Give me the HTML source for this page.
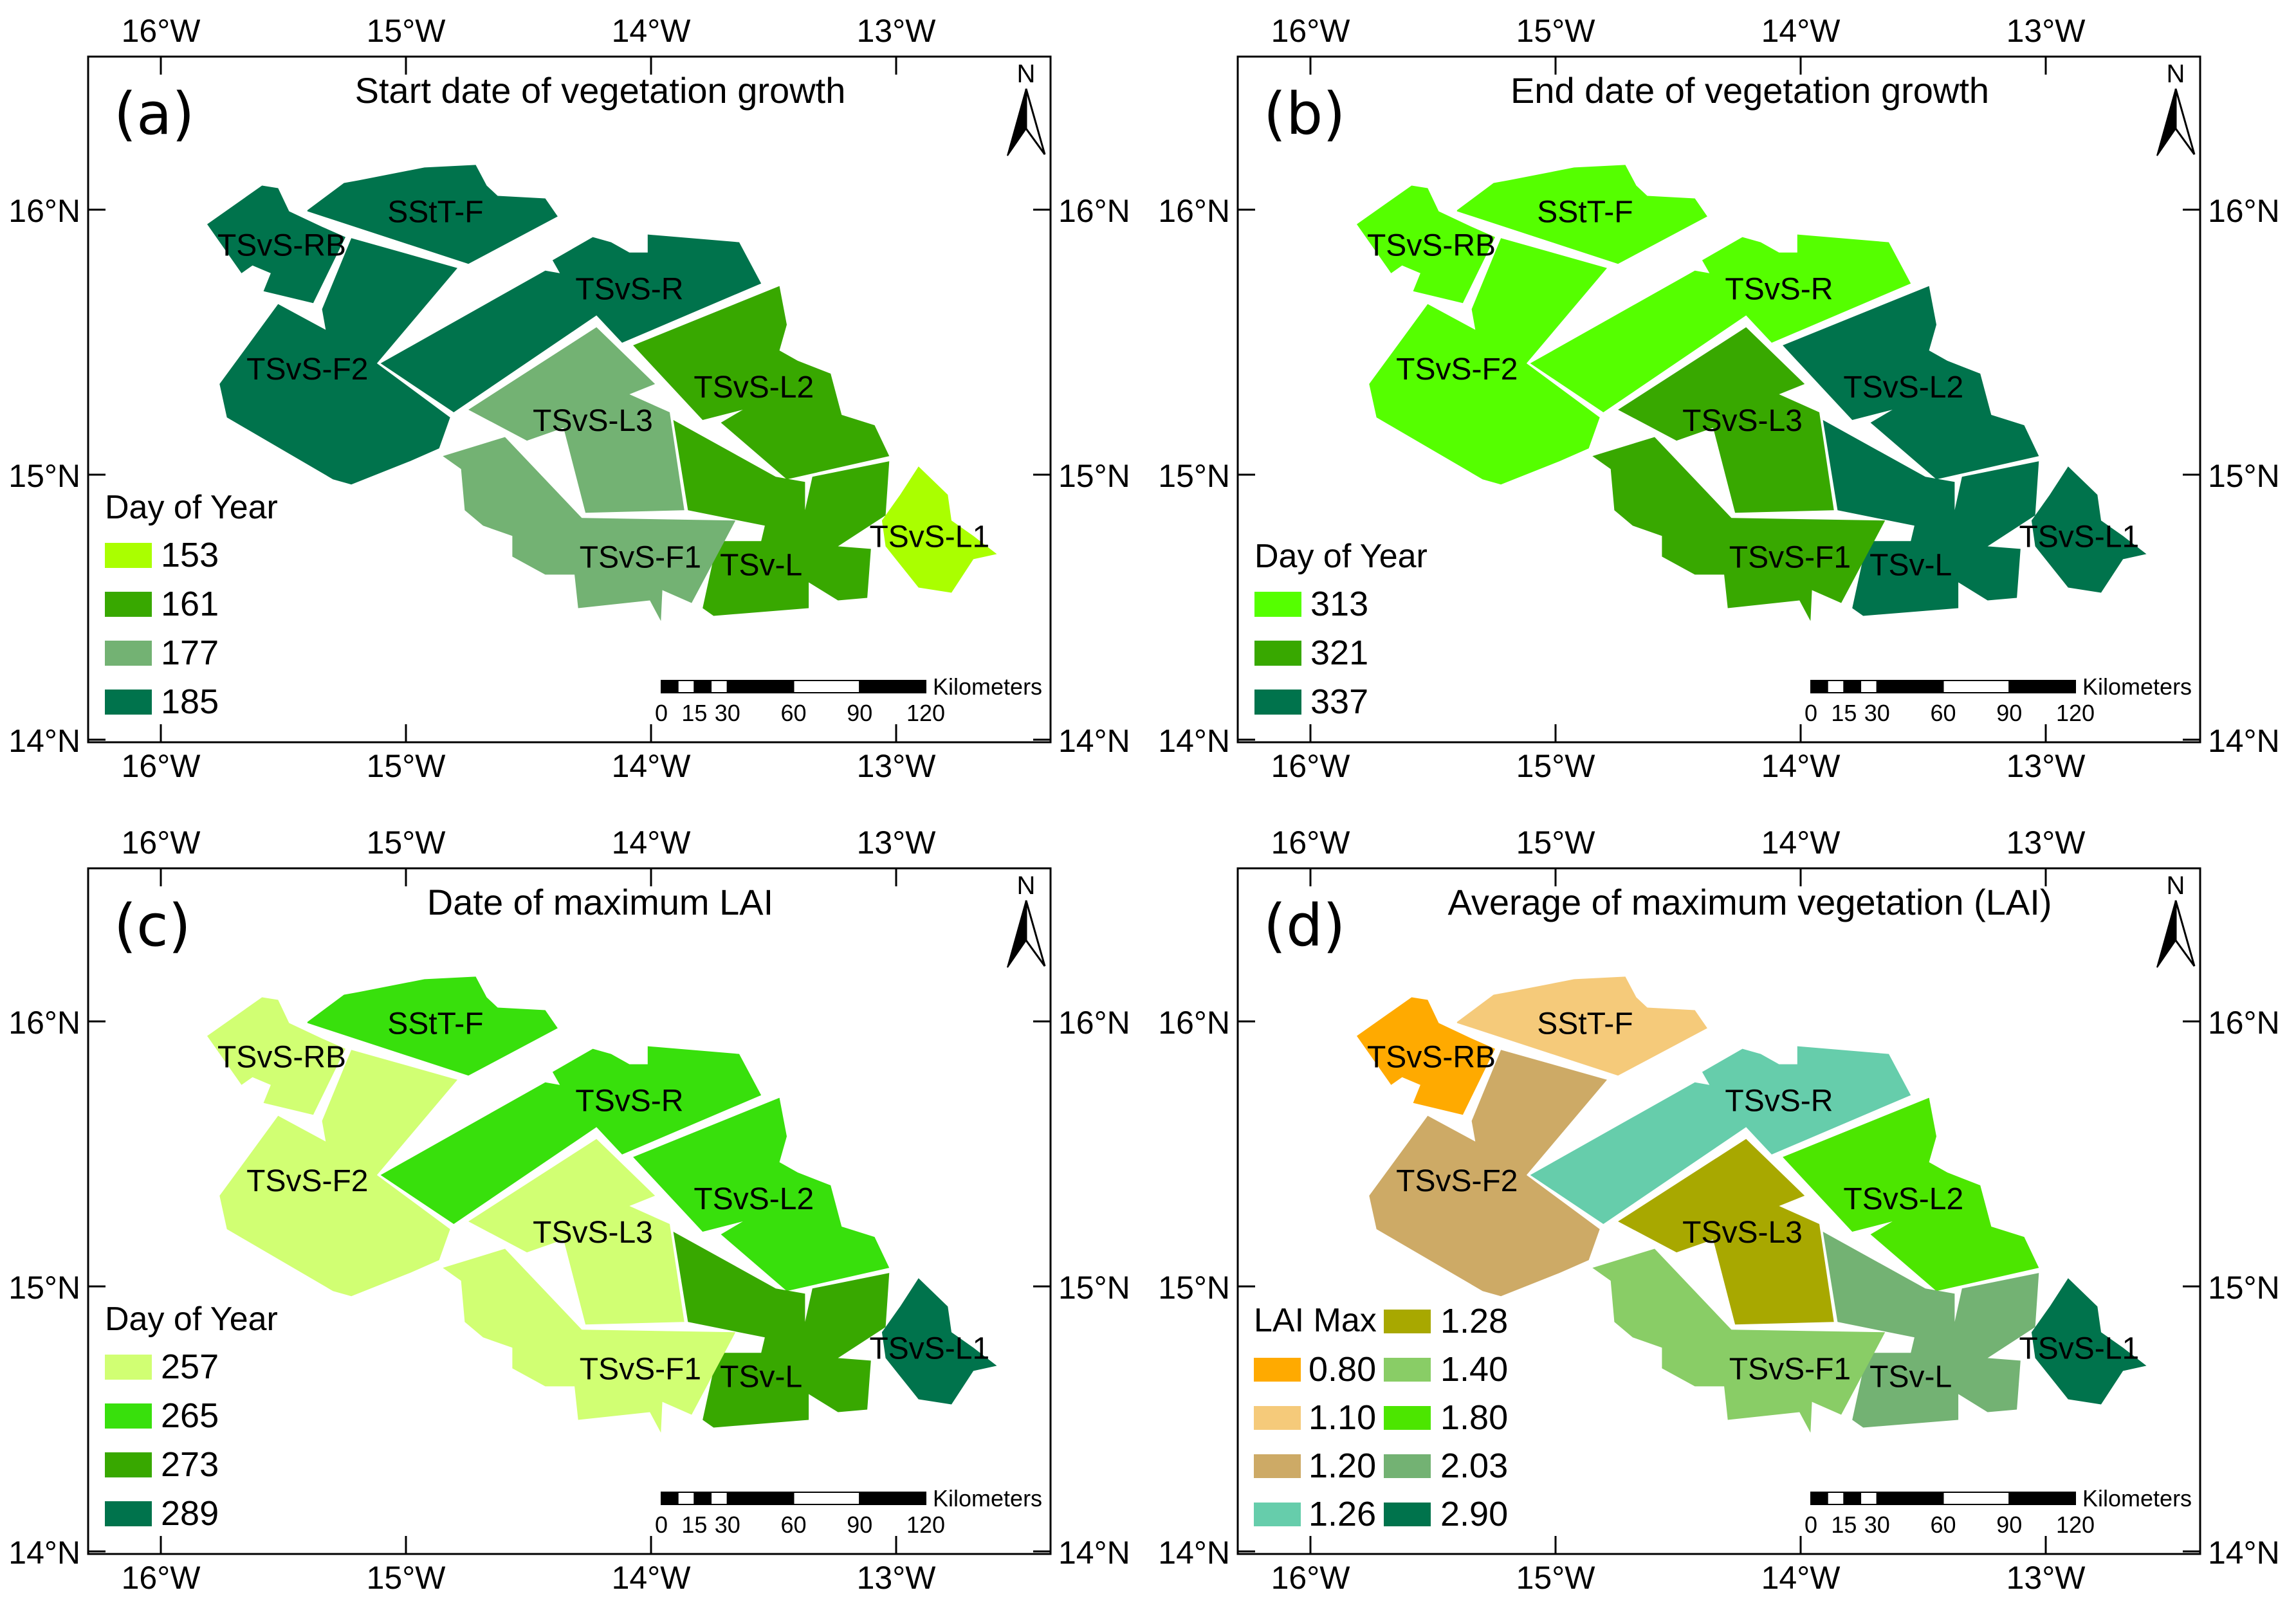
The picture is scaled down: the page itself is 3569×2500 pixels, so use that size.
<!DOCTYPE html>
<html><head><meta charset="utf-8"><style>
html,body{margin:0;padding:0;background:#fff;}
svg{display:block;font-family:"Liberation Sans",Arial,sans-serif;}
</style></head><body>
<svg id="fig" width="3569" height="2500" viewBox="0 0 3569 2500" xmlns="http://www.w3.org/2000/svg"></svg>
<script>
// ---- data ----
const regions = ["SStT-F","TSvS-RB","TSvS-F2","TSvS-R","TSvS-L3","TSvS-L2","TSv-L","TSvS-F1","TSvS-L1"];
const valuesA = [185,185,185,185,177,161,161,177,153];
const valuesB = [313,313,313,313,321,337,337,321,337];
const valuesC = [265,257,257,265,257,265,273,257,289];
const valuesD = [1.10,0.80,1.20,1.26,1.28,1.80,2.03,1.40,2.90];
const legendA = [153,161,177,185];
const legendB = [313,321,337];
const legendC = [257,265,273,289];
const legendD = [0.80,1.10,1.20,1.26,1.28,1.40,1.80,2.03,2.90];
const colorsA = ["#aaff00","#38a800","#73b273","#00734c"];
const colorsB = ["#55ff00","#38a800","#00734c"];
const colorsC = ["#d1ff73","#38e00c","#38a800","#00734c"];
const colorsD = ["#ffaa00","#f5ca7a","#cdaa66","#66cdab","#a8a800","#89cd66","#4ce600","#73b273","#00734c"];
const lonTicks = [-16,-15,-14,-13];
const latTicks = [16,15,14];
const scaleKm = [0,15,30,60,90,120];

// ---- geometry (zoom-frame coords) ----
const shapes = {
"SStT-F":[[420,408],[470,355],[490,350],[580,325],[650,320],[665,360],[680,380],[745,385],[762,420],[640,512],[420,410]],
"TSvS-RB":[[283,435],[358,360],[380,365],[395,410],[440,440],[472,460],[428,588],[360,565],[370,530],[345,515],[330,530]],
"TSvS-F2":[[480,462],[625,520],[515,705],[615,810],[600,870],[560,895],[480,940],[455,930],[310,810],[300,745],[380,590],[445,640],[440,600]],
"TSvS-R":[[520,705],[745,525],[765,530],[755,505],[810,460],[835,470],[860,490],[885,490],[885,455],[1010,470],[1040,550],[850,665],[815,612],[620,800]],
"TSvS-L3":[[640,795],[815,635],[895,745],[860,765],[915,800],[935,990],[800,995],[770,830],[720,855]],
"TSvS-L2":[[865,670],[1065,555],[1075,630],[1065,680],[1090,700],[1135,725],[1150,805],[1195,825],[1215,885],[1075,930],[985,820],[1015,795],[960,815]],
"TSv-L":[[920,815],[1060,925],[1100,935],[1100,990],[1110,925],[1215,895],[1210,1000],[1145,1060],[1190,1065],[1185,1160],[1145,1165],[1105,1130],[1105,1180],[975,1195],[960,1180],[980,1050],[1040,1050],[1045,1020],[940,990]],
"TSvS-F1":[[605,885],[690,848],[795,1005],[1005,1010],[945,1170],[905,1145],[903,1205],[888,1165],[790,1180],[785,1115],[745,1115],[700,1080],[700,1040],[660,1020],[635,990],[630,910]],
"TSvS-L1":[[1255,905],[1295,960],[1300,1010],[1330,1040],[1362,1075],[1330,1085],[1300,1150],[1255,1140],[1210,1060],[1205,1010],[1230,960]]
};
const labelPos = {"SStT-F":[595,410],"TSvS-RB":[385,475],"TSvS-F2":[420,715],"TSvS-R":[860,560],"TSvS-L3":[810,815],"TSvS-L2":[1030,750],"TSv-L":[1040,1095],"TSvS-F1":[875,1080],"TSvS-L1":[1270,1040]};

const NS="http://www.w3.org/2000/svg";
const fig=document.getElementById('fig');
const W=1496,H=1066;
function mk(tag,attrs,parent){const e=document.createElementNS(NS,tag);for(const k in attrs)e.setAttribute(k,attrs[k]);parent.appendChild(e);return e;}
function zx(x){return x/0.879-137;}
function zy(y){return y/1.248-88;}
function xOf(lon){return 113+(lon+16)*381;}
function yOf(lat){return 238+(16-lat)*412;}
function kmX(km){return 891+km*(411/120);}

function panel(px,py,tag,title,values,legVals,legCols,legTitle,dec,twoCol){
  const g=mk('g',{transform:`translate(${px},${py})`},fig);
  
  
  regions.forEach((r,i)=>{
    const ci=legVals.indexOf(values[i]);
    const pts=shapes[r].map(p=>zx(p[0]).toFixed(1)+','+zy(p[1]).toFixed(1)).join(' ');
    const pg=mk('polygon',{points:pts,fill:legCols[ci]},g);
    
    
  });
  regions.forEach(r=>{
    const t=mk('text',{x:zx(labelPos[r][0]),y:zy(labelPos[r][1])+17,'font-size':48,'text-anchor':'middle'},g);
    t.textContent=r;
    
    
  });
  const fr=mk('rect',{x:0,y:0,width:W,height:H,fill:'none',stroke:'#000','stroke-width':3},g);
  
  
  lonTicks.forEach(l=>{
    const x=xOf(l);
    mk('line',{x1:x,y1:0,x2:x,y2:28,stroke:'#000','stroke-width':3},g);
    mk('line',{x1:x,y1:H,x2:x,y2:H-28,stroke:'#000','stroke-width':3},g);
    const lab=(-l)+'°W';
    const t1=mk('text',{x:x,y:-23,'font-size':50,'text-anchor':'middle'},g);t1.textContent=lab;
    
    
    const t2=mk('text',{x:x,y:1120,'font-size':50,'text-anchor':'middle'},g);t2.textContent=lab;
    
    
  });
  latTicks.forEach(l=>{
    const y=yOf(l);
    mk('line',{x1:0,y1:y,x2:27,y2:y,stroke:'#000','stroke-width':3},g);
    mk('line',{x1:W,y1:y,x2:W-27,y2:y,stroke:'#000','stroke-width':3},g);
    const lab=l+'°N';
    const t1=mk('text',{x:-12,y:y+19,'font-size':50,'text-anchor':'end'},g);t1.textContent=lab;
    
    
    const t2=mk('text',{x:W+12,y:y+19,'font-size':50},g);t2.textContent=lab;
    
    
  });
  const tt=mk('text',{x:796,y:72,'font-size':56,'text-anchor':'middle'},g);tt.textContent=title;
  
  
  const pl=mk('text',{x:40,y:120,'font-size':90,'font-family':'DejaVu Sans, sans-serif'},g);pl.textContent='('+tag+')';
  
  
  // north arrow
  const na=mk('g',{},g);
  
  
  const nt=mk('text',{x:1458,y:40,'font-size':40,'text-anchor':'middle'},na);nt.textContent='N';
  mk('polygon',{points:'1458,50 1429,154 1458,112',fill:'#000',stroke:'#000','stroke-width':2},na);
  mk('polygon',{points:'1458,50 1487,152 1458,112',fill:'#fff',stroke:'#000','stroke-width':3},na);
  // scale bar
  const sb=mk('g',{},g);
  
  
  const segs=[0,7.5,15,22.5,30,60,90,120];
  for(let i=0;i<segs.length-1;i++){
    mk('rect',{x:kmX(segs[i]),y:970,width:kmX(segs[i+1])-kmX(segs[i]),height:19,fill:i%2?'#fff':'#000',stroke:'#000','stroke-width':2},sb);
  }
  scaleKm.forEach(k=>{const t=mk('text',{x:kmX(k),y:1033,'font-size':36,'text-anchor':'middle'},sb);t.textContent=k;});
  const kt=mk('text',{x:1313,y:992,'font-size':36},sb);kt.textContent='Kilometers';
  // legend
  const lg=mk('g',{},g);
  
  
  const fmt=v=>dec?v.toFixed(2):String(v);
  if(!twoCol){
    const base=794-76*(legVals.length-3);
    const t=mk('text',{x:26,y:base,'font-size':52},lg);t.textContent=legTitle;
    legVals.forEach((v,i)=>{
      const y=base+38+i*76;
      const r=mk('rect',{x:26,y:y,width:73,height:39,fill:legCols[i]},lg);
      
      
      const tx=mk('text',{x:113,y:y+37,'font-size':54},lg);tx.textContent=fmt(v);
    });
  } else {
    const t=mk('text',{x:25,y:720,'font-size':52},lg);t.textContent=legTitle;
    legVals.forEach((v,i)=>{
      const col=i<4?0:1, row=i<4?i+1:i-4;
      const y=686+row*75;
      const sx=col?227:25, tx=col?315:110;
      const r=mk('rect',{x:sx,y:y,width:73,height:37,fill:legCols[i]},lg);
      
      
      const te=mk('text',{x:tx,y:y+36,'font-size':54},lg);te.textContent=fmt(v);
    });
  }
}
panel(137,88,'a','Start date of vegetation growth',valuesA,legendA,colorsA,'Day of Year',false,false);
panel(1924,88,'b','End date of vegetation growth',valuesB,legendB,colorsB,'Day of Year',false,false);
panel(137,1350,'c','Date of maximum LAI',valuesC,legendC,colorsC,'Day of Year',false,false);
panel(1924,1350,'d','Average of maximum vegetation (LAI)',valuesD,legendD,colorsD,'LAI Max',true,true);
</script>
</body></html>
